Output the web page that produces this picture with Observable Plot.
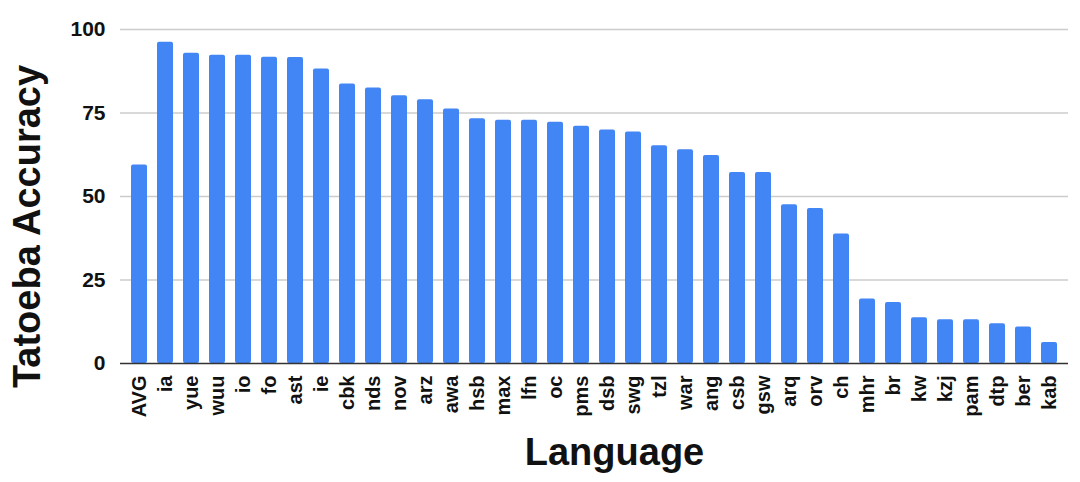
<!DOCTYPE html>
<html>
<head>
<meta charset="utf-8">
<script src="https://cdn.jsdelivr.net/npm/d3@7"></script>
<script src="https://cdn.jsdelivr.net/npm/@observablehq/plot@0.6"></script>
<style>
  html, body { margin: 0; padding: 0; background: #fff; }
  #chart svg { display: block; font-family: "Liberation Sans", Arial, sans-serif; }
</style>
</head>
<body>
<div id="chart"></div>
<script>
const languages = ["AVG","ia","yue","wuu","io","fo","ast","ie","cbk","nds","nov","arz","awa","hsb","max","lfn","oc","pms","dsb","swg","tzl","war","ang","csb","gsw","arq","orv","ch","mhr","br","kw","kzj","pam","dtp","ber","kab"];
const accuracy = [59.4,96.2,92.9,92.3,92.3,91.7,91.6,88.2,83.7,82.5,80.2,79.0,76.2,73.3,72.8,72.8,72.2,71.0,69.9,69.3,65.2,64.0,62.3,57.2,57.2,47.5,46.4,38.8,19.3,18.3,13.7,13.1,13.1,11.9,10.9,6.3];
const yTicks = [0, 25, 50, 75, 100];
const xTitle = "Language";
const yTitle = "Tatoeba Accuracy";

const data = languages.map((lang, i) => ({lang, value: accuracy[i]}));

const chart = Plot.plot({
  width: 1080,
  height: 482,
  marginLeft: 120,
  marginRight: 12,
  marginTop: 29,
  marginBottom: 119,
  x: {domain: languages, padding: 0.38, label: null},
  y: {domain: [0, 100], ticks: yTicks, label: null},
  marks: [
    Plot.gridY(yTicks.filter(d => d > 0), {stroke: "#cccccc", strokeOpacity: 1, strokeWidth: 1.5}),
    Plot.barY(data, {x: "lang", y: "value", fill: "#4285f4", rx: 2}),
    Plot.ruleY([0], {stroke: "#333", strokeWidth: 1.5}),
    Plot.axisY({ticks: yTicks, tickSize: 0, tickPadding: 15, fontSize: 21, fontWeight: "bold", fill: "#111", label: null}),
    Plot.axisX({tickSize: 0, tickPadding: 12, tickRotate: -90, fontSize: 20, fontWeight: "bold", fill: "#111", label: null}),
    Plot.text([yTitle], {frameAnchor: "left", rotate: -90, dx: -93, dy: 30, fontSize: 38, fontWeight: "bold", fill: "#111", textAnchor: "middle", lineAnchor: "middle"}),
    Plot.text([xTitle], {frameAnchor: "bottom", dx: 20, dy: 75, fontSize: 38, fontWeight: "bold", fill: "#111", textAnchor: "middle", lineAnchor: "top"})
  ]
});
document.getElementById("chart").appendChild(chart);
</script>
</body>
</html>
